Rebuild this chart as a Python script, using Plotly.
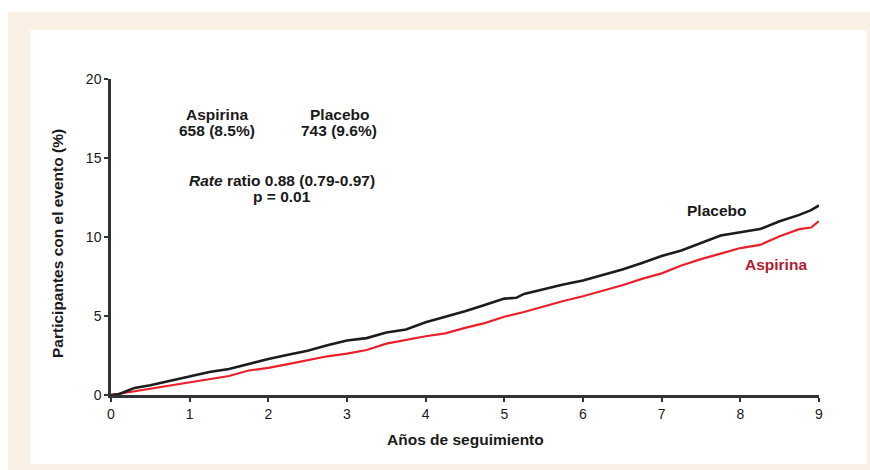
import plotly.graph_objects as go

# Cumulative incidence (%) by years of follow-up
years_placebo = [0, 0.1, 0.2, 0.3, 0.5, 0.75, 1.0, 1.25, 1.5, 1.75, 2.0, 2.25, 2.5, 2.75,
                 3.0, 3.25, 3.5, 3.75, 4.0, 4.25, 4.5, 4.75, 5.0, 5.15, 5.25, 5.5, 5.75,
                 6.0, 6.25, 6.5, 6.75, 7.0, 7.25, 7.5, 7.75, 8.0, 8.25, 8.5, 8.75, 8.9, 9.0]
pct_placebo = [0, 0.05, 0.25, 0.45, 0.62, 0.9, 1.18, 1.45, 1.65, 1.98, 2.28, 2.55, 2.8, 3.15,
               3.45, 3.6, 3.95, 4.15, 4.6, 4.95, 5.3, 5.7, 6.1, 6.15, 6.4, 6.7, 7.0,
               7.25, 7.6, 7.95, 8.35, 8.8, 9.15, 9.6, 10.1, 10.3, 10.5, 11.0, 11.4, 11.7, 12.0]

years_aspirin = [0, 0.25, 0.5, 0.75, 1.0, 1.25, 1.5, 1.75, 2.0, 2.25, 2.5, 2.75, 3.0, 3.25,
                 3.5, 3.75, 4.0, 4.25, 4.5, 4.75, 5.0, 5.25, 5.5, 5.75, 6.0, 6.25, 6.5,
                 6.75, 7.0, 7.25, 7.5, 7.75, 8.0, 8.25, 8.5, 8.75, 8.9, 9.0]
pct_aspirin = [0, 0.2, 0.4, 0.58, 0.78, 0.98, 1.2, 1.55, 1.72, 1.95, 2.2, 2.45, 2.62, 2.85,
               3.25, 3.5, 3.72, 3.9, 4.25, 4.55, 4.95, 5.25, 5.6, 5.95, 6.25, 6.6, 6.95,
               7.35, 7.7, 8.2, 8.6, 8.95, 9.3, 9.5, 10.05, 10.5, 10.6, 11.0]

x_ticks = [0, 1, 2, 3, 4, 5, 6, 7, 8, 9]
y_ticks = [0, 5, 10, 15, 20]

FONT = "Liberation Sans, Arial, sans-serif"
AXIS = "#333333"
RED_LINE = "#e8202a"
RED_TEXT = "#b31b34"
TXT = 15.5

W, H = 870, 470
L, R, T, B = 111, 51, 79, 75
PW, PH = W - L - R, H - T - B


def px_to_paper(x, y):
    return (x - L) / PW, (H - B - y) / PH


fig = go.Figure()
fig.add_trace(go.Scatter(x=years_aspirin, y=pct_aspirin, mode="lines",
                         line=dict(color=RED_LINE, width=2.2), name="Aspirina",
                         showlegend=False, cliponaxis=False))
fig.add_trace(go.Scatter(x=years_placebo, y=pct_placebo, mode="lines",
                         line=dict(color="#1c1c1c", width=2.6), name="Placebo",
                         showlegend=False, cliponaxis=False))

# Beige frame and white panel behind the chart
bx0, by0 = px_to_paper(8, 480)
bx1, by1 = px_to_paper(880, 12)
wx0, wy0 = px_to_paper(30, 464)
wx1, wy1 = px_to_paper(867, 30)
shapes = [
    dict(type="rect", xref="paper", yref="paper", x0=bx0, y0=by0, x1=bx1, y1=by1,
         fillcolor="#fbf0e6", line=dict(width=0), layer="below"),
    dict(type="rect", xref="paper", yref="paper", x0=wx0, y0=wy0, x1=wx1, y1=wy1,
         fillcolor="#ffffff", line=dict(width=0), layer="below"),
]

bold = dict(family=FONT, size=TXT, color="#1a1a1a")


def note(x, y, text, font=bold, **kw):
    return dict(x=x, y=y, text=text, showarrow=False, font=font,
                xanchor="center", yanchor="middle", **kw)


tx, ty = px_to_paper(57, 244)
xx, xy = px_to_paper(465, 439)
annotations = [
    note(1.35, 17.75, "<b>Aspirina</b>"),
    note(1.35, 16.75, "<b>658 (8.5%)</b>"),
    note(2.9, 17.75, "<b>Placebo</b>"),
    note(2.9, 16.75, "<b>743 (9.6%)</b>"),
    note(2.17, 13.55, "<b><i>Rate</i> ratio 0.88 (0.79-0.97)</b>"),
    note(2.17, 12.55, "<b>p = 0.01</b>"),
    note(7.7, 11.65, "<b>Placebo</b>"),
    note(8.45, 8.23, "<b>Aspirina</b>", font=dict(family=FONT, size=TXT, color=RED_TEXT)),
    note(tx, ty, "<b>Participantes con el evento (%)</b>", xref="paper", yref="paper",
         textangle=-90),
    note(xx, xy, "<b>Años de seguimiento</b>", xref="paper", yref="paper"),
]

tickfont = dict(family=FONT, size=14, color="#1a1a1a")
fig.update_layout(
    width=W, height=H,
    margin=dict(l=L, r=R, t=T, b=B),
    paper_bgcolor="#ffffff", plot_bgcolor="rgba(0,0,0,0)",
    font=dict(family=FONT, size=14, color="#1a1a1a"),
    shapes=shapes, annotations=annotations,
    xaxis=dict(range=[0, 9], tickvals=x_ticks, showgrid=False, zeroline=False,
               showline=True, linecolor=AXIS, linewidth=2.5, ticks="outside",
               ticklen=4, tickwidth=2, tickcolor=AXIS, tickfont=tickfont),
    yaxis=dict(range=[0, 20], tickvals=y_ticks, showgrid=False, zeroline=False,
               showline=True, linecolor=AXIS, linewidth=2.5, ticks="outside",
               ticklen=4, tickwidth=2, tickcolor=AXIS, tickfont=tickfont),
)

fig.write_html("out.html")
